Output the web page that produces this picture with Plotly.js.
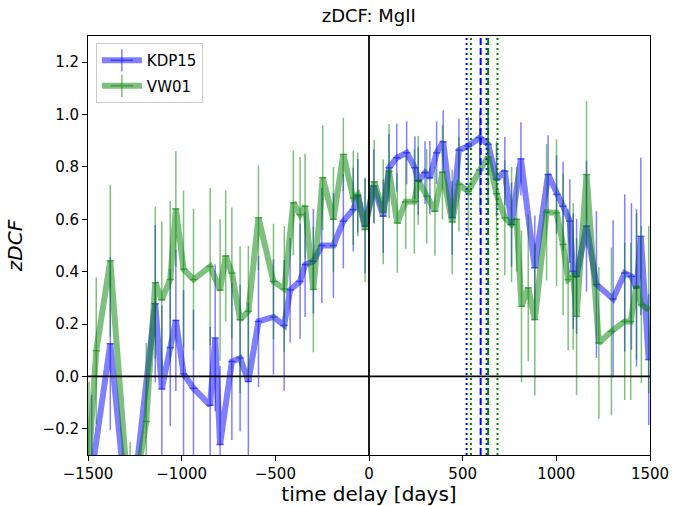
<!DOCTYPE html>
<html>
<head>
<meta charset="utf-8">
<script src="https://cdn.plot.ly/plotly-3.0.1.min.js"></script>
<style>html,body{margin:0;padding:0;background:#fff;}#chart{width:683px;height:506px;}</style>
</head>
<body>
<div id="chart"></div>
<script>
// KDP15 series
var kdpX = [-1480,-1381,-1280,-1141,-1106,-1061,-1031,-990,-937,-848,-821,-795,-732,-688,-644,-590,-510,-453,-421,-368,-341,-297,-252,-190,-137,-84,-60,-21,25,76,107,148,201,245,263,299,325,361,396,444,480,530,592,636,681,725,761,811,885,956,1001,1036,1072,1090,1108,1161,1214,1303,1365,1401,1428,1451,1493];
var kdpY = [-0.37,0.125,-0.60,0.278,-0.048,0.11,0.214,0.01,-0.045,-0.11,0.147,-0.26,0.057,0.07,-0.019,0.21,0.227,0.195,0.33,0.363,0.427,0.44,0.50,0.50,0.593,0.637,0.69,0.574,0.727,0.612,0.797,0.835,0.854,0.797,0.746,0.778,0.759,0.854,0.896,0.606,0.864,0.88,0.912,0.886,0.752,0.784,0.58,0.831,0.415,0.771,0.695,0.65,0.593,0.402,0.382,0.574,0.351,0.296,0.395,0.382,0.338,0.535,0.064];
var kdpErr = [0.30,0.33,0.30,0.30,0.32,0.30,0.27,0.32,0.30,0.30,0.28,0.30,0.30,0.28,0.30,0.25,0.22,0.25,0.20,0.22,0.20,0.20,0.22,0.20,0.18,0.16,0.14,0.18,0.14,0.14,0.13,0.13,0.12,0.12,0.13,0.12,0.14,0.12,0.12,0.14,0.12,0.11,0.10,0.12,0.14,0.13,0.16,0.14,0.20,0.15,0.15,0.17,0.16,0.22,0.22,0.25,0.28,0.30,0.30,0.28,0.30,0.30,0.25];
// VW01 series
var vwX = [-1495,-1456,-1381,-1275,-1189,-1141,-1106,-1061,-1031,-990,-937,-848,-795,-765,-732,-688,-644,-590,-510,-452,-404,-368,-341,-297,-247,-190,-137,-84,-60,-21,28,76,107,151,196,242,263,308,352,392,444,480,530,592,636,681,725,761,788,814,850,885,948,1001,1036,1063,1090,1108,1161,1227,1294,1365,1397,1428,1454,1493];
var vwY = [-0.32,0.098,0.442,-0.55,-0.172,0.358,0.293,0.37,0.64,0.41,0.37,0.42,0.33,0.46,0.395,0.217,0.249,0.606,0.363,0.334,0.663,0.618,0.65,0.332,0.759,0.60,0.848,0.682,0.695,0.561,0.743,0.628,0.784,0.586,0.667,0.668,0.749,0.688,0.631,0.78,0.59,0.733,0.707,0.788,0.838,0.698,0.606,0.58,0.60,0.268,0.338,0.217,0.627,0.625,0.504,0.37,0.382,0.229,0.771,0.128,0.172,0.21,0.21,0.344,0.274,0.255];
var vwErr = [0.30,0.28,0.29,0.30,0.30,0.29,0.30,0.30,0.22,0.30,0.27,0.30,0.27,0.25,0.25,0.28,0.25,0.20,0.22,0.24,0.20,0.22,0.20,0.24,0.20,0.20,0.14,0.18,0.16,0.20,0.16,0.20,0.18,0.19,0.18,0.20,0.17,0.18,0.17,0.18,0.20,0.18,0.17,0.16,0.16,0.20,0.22,0.22,0.20,0.29,0.28,0.29,0.26,0.28,0.27,0.27,0.28,0.30,0.28,0.29,0.32,0.30,0.30,0.28,0.30,0.32];
var xErrDays = 20;
// lag estimates (days): centroid and its bounds
var kdpLag = [596];
var kdpLagBounds = [521, 628];
var vwLag = [636];
var vwLagBounds = [544, 686];
var xTicks = [-1500,-1000,-500,0,500,1000,1500];
var seriesNames = ['KDP15','VW01'];

var BLUE = 'rgba(0,0,255,0.5)';
var GREEN = 'rgba(0,128,0,0.5)';

function series(x, y, err, col) {
  return {
    x: x, y: y, type: 'scatter', mode: 'lines', showlegend: false,
    line: {color: col, width: 6},
    error_y: {type: 'data', array: err, visible: true, color: col, thickness: 1.5, width: 0},
    error_x: {type: 'constant', value: xErrDays, visible: true, color: col, thickness: 1.5, width: 0},
    hoverinfo: 'skip'
  };
}
function legendItem(name, col, grp) {
  return {
    x: [null], y: [null], type: 'scatter', mode: 'lines+markers', name: name,
    legendgroup: grp,
    line: {color: col, width: 6},
    marker: {symbol: 'cross-thin', size: 16, color: col, line: {color: col, width: 1.5}}
  };
}

var traces = [
  series(kdpX, kdpY, kdpErr, BLUE),
  series(vwX, vwY, vwErr, GREEN),
  legendItem(seriesNames[0], BLUE, 'a'),
  legendItem(seriesNames[1], GREEN, 'b')
];

var shapes = [
  {type: 'line', xref: 'x', yref: 'paper', x0: 0, x1: 0, y0: 0, y1: 1, line: {color: 'black', width: 1.8}},
  {type: 'line', xref: 'paper', yref: 'y', x0: 0, x1: 1, y0: 0, y1: 0, line: {color: 'black', width: 1.8}}
];
function vline(v, color, dash) {
  return {type: 'line', xref: 'x', yref: 'paper', x0: v, x1: v, y0: 0, y1: 1, line: {color: color, width: 2, dash: dash}};
}
kdpLag.forEach(function(v){ shapes.push(vline(v, '#0000ff', '7px,3px')); });
kdpLagBounds.forEach(function(v){ shapes.push(vline(v, '#0000ff', '2px,3px')); });
vwLag.forEach(function(v){ shapes.push(vline(v, '#008000', '7px,3px')); });
vwLagBounds.forEach(function(v){ shapes.push(vline(v, '#008000', '2px,3px')); });

var FONT = 'DejaVu Sans, sans-serif';
var layout = {
  width: 683, height: 506,
  margin: {l: 88, r: 33, t: 36, b: 51, pad: 0},
  paper_bgcolor: 'white', plot_bgcolor: 'white',
  font: {family: FONT, size: 15, color: 'black'},
  title: {text: 'zDCF: MgII', font: {family: FONT, size: 18, color: 'black'}, x: 0.54, xanchor: 'center', y: 0.968, yanchor: 'middle'},
  xaxis: {
    range: [-1500, 1500], tickvals: xTicks, showgrid: false, zeroline: false,
    showline: true, linecolor: 'black', linewidth: 1, mirror: true,
    ticks: 'outside', ticklen: 5, tickwidth: 1, tickcolor: 'black',
    tickfont: {family: FONT, size: 15},
    title: {text: 'time delay [days]', font: {family: FONT, size: 20}, standoff: 6}
  },
  yaxis: {
    range: [-0.3, 1.3], tick0: 0, dtick: 0.2, tickformat: '.1f', showgrid: false, zeroline: false,
    showline: true, linecolor: 'black', linewidth: 1, mirror: true,
    ticks: 'outside', ticklen: 5, tickwidth: 1, tickcolor: 'black',
    tickfont: {family: FONT, size: 15},
    title: {text: '<i>zDCF</i>', font: {family: FONT, size: 20}, standoff: 14}
  },
  legend: {
    x: 0.014, y: 0.983, xanchor: 'left', yanchor: 'top',
    bgcolor: 'rgba(255,255,255,0.8)', bordercolor: '#cccccc', borderwidth: 1,
    font: {family: FONT, size: 15}, itemwidth: 40, tracegroupgap: 3
  },
  shapes: shapes,
  showlegend: true
};

Plotly.newPlot('chart', traces, layout, {displayModeBar: false, staticPlot: true});
</script>
</body>
</html>
